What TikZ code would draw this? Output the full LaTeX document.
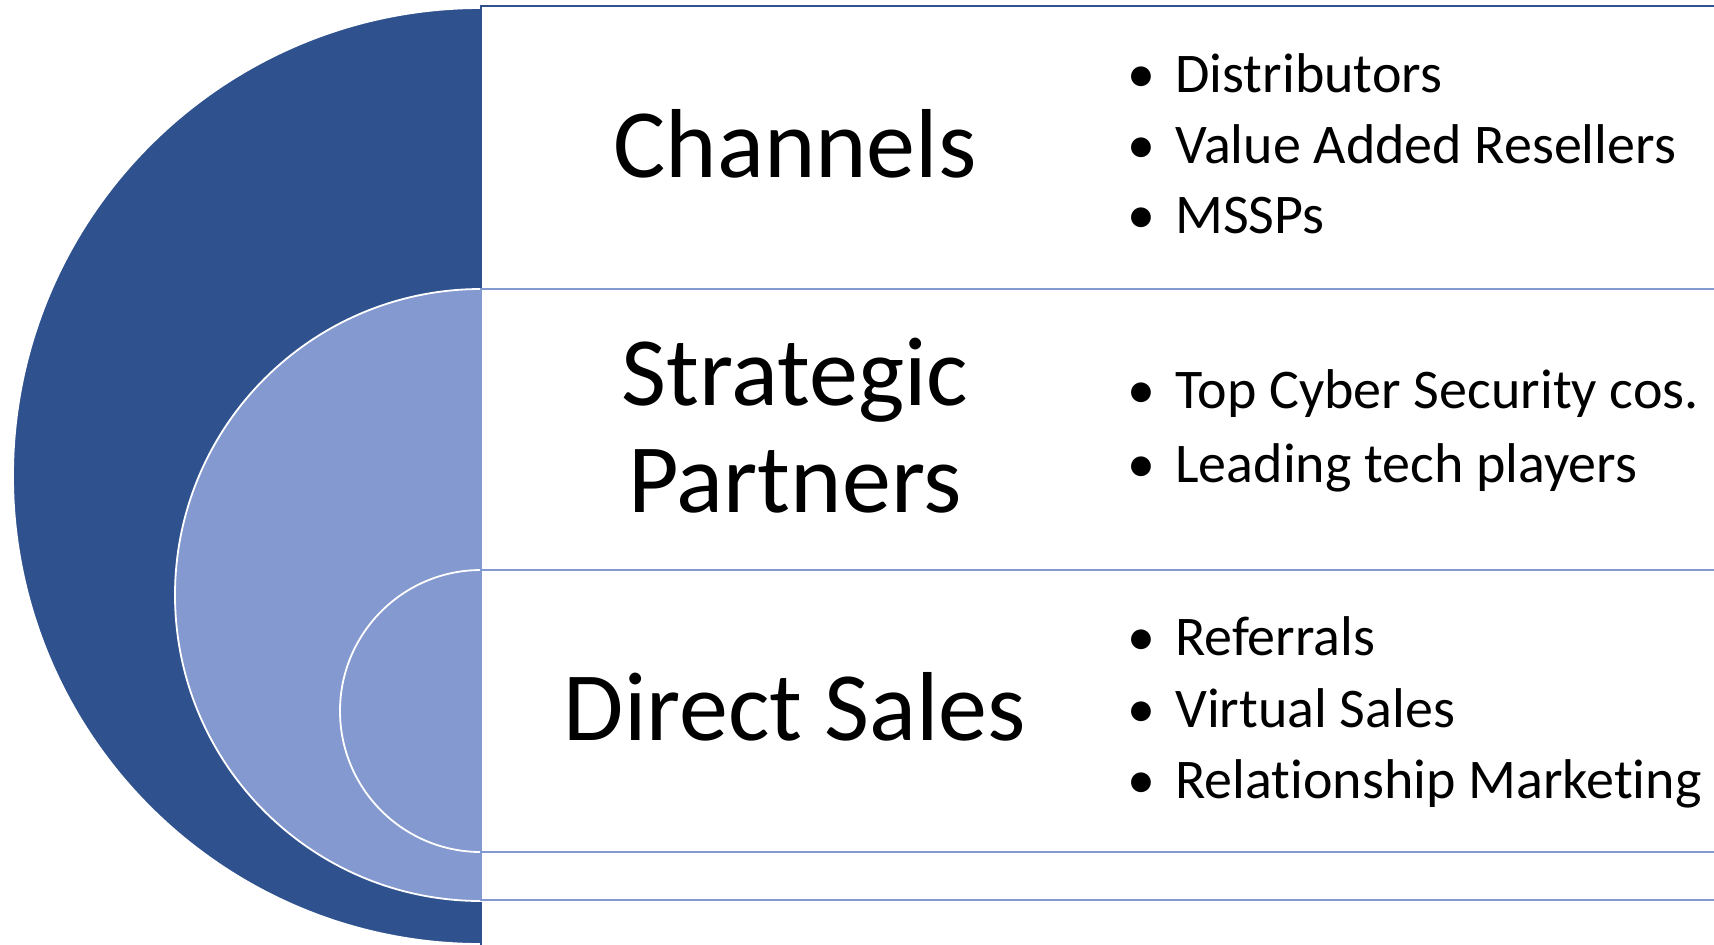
\documentclass[tikz,border=0pt]{standalone}
\usepackage{fontspec}
\setmainfont{Carlito}[Ligatures=NoCommon]
\usepackage{tikz}
\usetikzlibrary{positioning}
\definecolor{ringdark}{HTML}{2F528F}
\definecolor{ringlight}{HTML}{8499CF}
\tikzset{
  ring/.style={draw=white,line width=0.9pt},
  band/.style={fill=white,line width=1.3pt},
  heading/.style={font=\fontsize{49}{53.5}\selectfont,align=center,inner sep=0pt,anchor=base},
  point/.style={font=\fontsize{28}{35}\selectfont,inner sep=0pt,anchor=base west},
}
\newcommand{\bul}[1]{\makebox[24pt][l]{\textbullet}#1}

\begin{document}
\begin{tikzpicture}[x=0.5pt,y=-0.5pt]
	    \clip (0,0) rectangle (1714,944);
	    % outer ring and its band
	    \path[ring,fill=ringdark] (481,8) arc[start angle=-90,end angle=-270,radius=468] -- cycle;
	    \draw[band,draw=ringdark] (481,6) rectangle (1740,980);
	    % middle ring
	    \path[ring,fill=ringlight] (481,289) arc[start angle=-90,end angle=-270,radius=306] -- cycle;
	    \draw[band,draw=ringlight] (481,289) rectangle (1740,900);
	    % inner ring
	    \path[ring,fill=ringlight] (481,570) arc[start angle=-90,end angle=-270,radius=141] -- cycle;
	    \draw[band,draw=ringlight] (481,570) rectangle (1740,852);
	    \node[heading] (chan) at (795,177) {Channels};
	    \node[heading] (strat) at (795,512) {Strategic\\Partners};
	    \node[heading] (direct) at (795,740) {Direct Sales};
	    \node[point] (dist) at (1127,92) {\bul{Distributors}};
	    \node[point] (var) at (1127,163) {\bul{Value Added Resellers}};
	    \node[point] (mssp) at (1127,233) {\bul{MSSPs}};
	    \node[point] (cyber) at (1127,408) {\bul{Top Cyber Security cos.}};
	    \node[point] (tech) at (1127,482) {\bul{Leading tech players}};
	    \node[point] (refer) at (1127,655) {\bul{Referrals}};
	    \node[point] (virt) at (1127,727) {\bul{Virtual Sales}};
	    \node[point] (relm) at (1127,798) {\bul{Relationship Marketing}};
	\end{tikzpicture}
\end{document}
